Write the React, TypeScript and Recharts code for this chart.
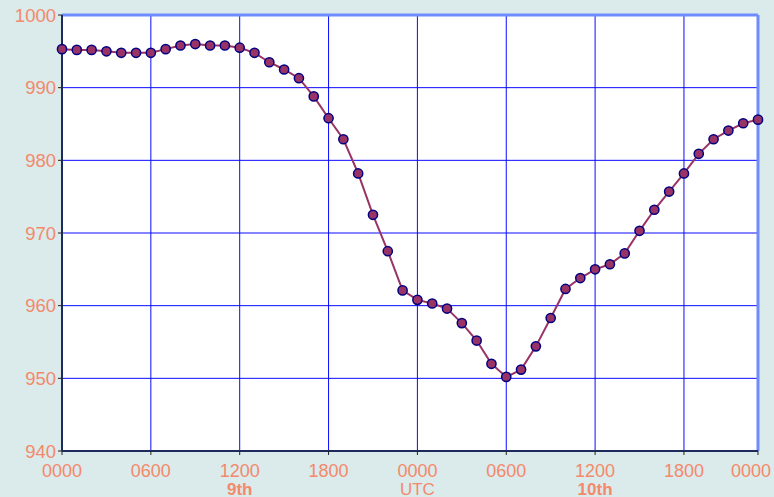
import { LineChart, Line, XAxis, YAxis, CartesianGrid, ReferenceLine } from "recharts";

// hourly pressure readings (hPa), 0000 UTC on the 9th onwards
const hours = [
  0, 1, 2, 3, 4, 5, 6, 7, 8, 9, 10, 11, 12, 13, 14, 15, 16, 17, 18, 19, 20, 21, 22, 23,
  24, 25, 26, 27, 28, 29, 30, 31, 32, 33, 34, 35, 36, 37, 38, 39, 40, 41, 42, 43, 44, 45, 46, 47,
];
const pressure = [
  995.3, 995.2, 995.2, 995.0, 994.8, 994.8, 994.8, 995.3, 995.8, 996.0, 995.8, 995.8,
  995.5, 994.8, 993.5, 992.5, 991.3, 988.8, 985.8, 982.9, 978.2, 972.5, 967.5, 962.1,
  960.8, 960.3, 959.6, 957.6, 955.2, 952.0, 950.2, 951.2, 954.4, 958.3, 962.3, 963.8,
  965.0, 965.7, 967.2, 970.3, 973.2, 975.7, 978.2, 980.9, 982.9, 984.1, 985.1, 985.6,
];

const xTicks = [0, 6, 12, 18, 24, 30, 36, 42, 47];
const xTickLabels = ["0000", "0600", "1200", "1800", "0000", "0600", "1200", "1800", "0000"];
const xSubLabels = ["", "", "9th", "", "UTC", "", "10th", "", ""];
const yTicks = [940, 950, 960, 970, 980, 990, 1000];

const data = hours.map((h, i) => ({ hour: h, hpa: pressure[i] }));

const LABEL = "#f4896b";
const FONT = "'Liberation Sans', Arial, sans-serif";

const XTick = (props: any) => {
  const { x, y, payload } = props;
  const i = xTicks.indexOf(payload.value);
  const sub = xSubLabels[i];
  // last label sits against the right edge, so it is nudged left
  const lx = i === xTicks.length - 1 ? x - 7 : x;
  return (
    <g>
      <text x={lx} y={y + 20} textAnchor="middle" fill={LABEL} fontSize={18} fontFamily={FONT}>
        {xTickLabels[i]}
      </text>
      {sub && (
        <text
          x={x}
          y={y + 38}
          textAnchor="middle"
          fill={LABEL}
          fontSize={17}
          fontFamily={FONT}
          fontWeight={sub === "UTC" ? "normal" : "bold"}
        >
          {sub}
        </text>
      )}
    </g>
  );
};

export default function App() {
  return (
    <div style={{ position: "absolute", left: 0, top: 0, width: 774, height: 497, background: "#dbeaea", overflow: "hidden" }}>
      <LineChart width={774} height={497} data={data} margin={{ top: 15, right: 16, bottom: 0, left: 0 }}>
        <CartesianGrid stroke="#0a0aff" strokeWidth={1} fill="#ffffff" fillOpacity={1} />
        <XAxis
          dataKey="hour"
          type="number"
          domain={[0, 47]}
          ticks={xTicks}
          interval={0}
          height={46}
          axisLine={{ stroke: "#1c2a5c", strokeWidth: 2 }}
          tickLine={{ stroke: "#222222" }}
          tickSize={4}
          tick={<XTick />}
        />
        <YAxis
          domain={[940, 1000]}
          ticks={yTicks}
          interval={0}
          width={62}
          axisLine={{ stroke: "#1c2a5c", strokeWidth: 2 }}
          tickLine={{ stroke: "#222222" }}
          tickSize={4}
          tick={{ fill: LABEL, fontSize: 18.5, fontFamily: FONT }}
        />
        <ReferenceLine y={1000} stroke="#6f8cff" strokeWidth={3} />
        <ReferenceLine x={47} stroke="#6f8cff" strokeWidth={3} />
        <Line
          type="linear"
          dataKey="hpa"
          stroke="#993366"
          strokeWidth={2}
          dot={{ r: 4.6, fill: "#993366", stroke: "#000080", strokeWidth: 1.5 }}
          isAnimationActive={false}
        />
      </LineChart>
    </div>
  );
}
